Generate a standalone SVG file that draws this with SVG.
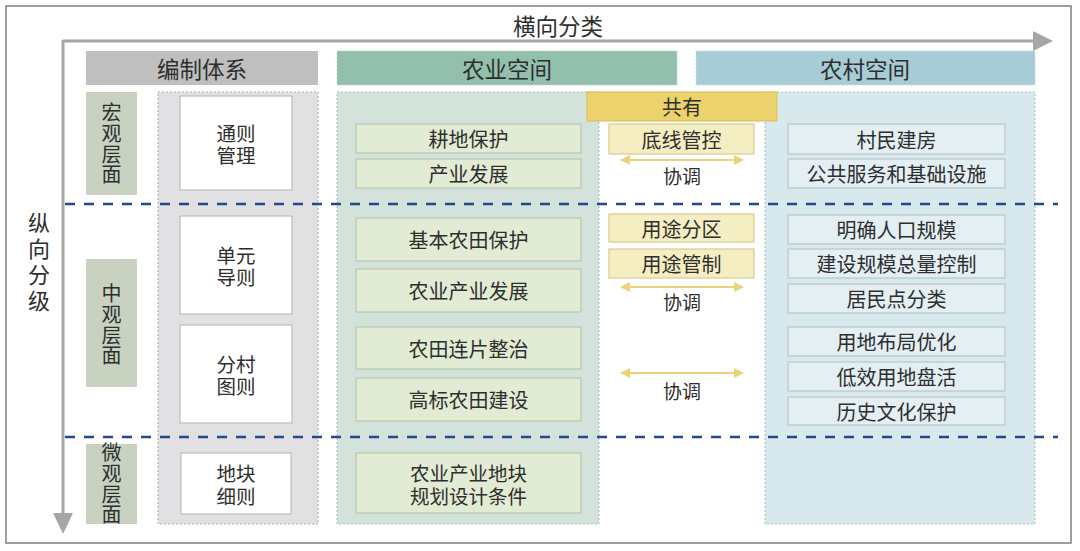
<svg xmlns="http://www.w3.org/2000/svg" width="1080" height="551" viewBox="0 0 1080 551">
<defs>
<style>
text{font-family:"Noto Sans CJK SC","Noto Sans",sans-serif;fill:#2e2e2e;text-anchor:middle;dominant-baseline:central}
.hd{font-size:22.5px}
.it{font-size:20px}
.tw{font-size:19.5px}
.cd{font-size:19px}
.lv{font-size:20px;writing-mode:vertical-rl;letter-spacing:0.7px}
.vt{font-size:22px;writing-mode:vertical-rl;letter-spacing:4px}
.agri{fill:#e2ebd3;stroke:#b9c5b3;stroke-width:1.2}
.rur{fill:#e4eff4;stroke:#b8c6cd;stroke-width:1.2}
.yel{fill:#f6eec3;stroke:#d8cb8f;stroke-width:1.2}
.wht{fill:#fff;stroke:#bdbdbd;stroke-width:1.2}
.lvl{fill:#c9d2c1}
.dash{stroke:#24498a;stroke-width:2.5;stroke-dasharray:10 9;fill:none}
.ya{stroke:#ead37a;stroke-width:2;fill:none;marker-start:url(#ys);marker-end:url(#ye)}
</style>
<marker id="ye" viewBox="0 0 10 10" refX="9" refY="5" markerWidth="5" markerHeight="5" orient="auto" markerUnits="strokeWidth"><path d="M0,0 L10,5 L0,10 z" fill="#ead37a"/></marker>
<marker id="ys" viewBox="0 0 10 10" refX="1" refY="5" markerWidth="5" markerHeight="5" orient="auto" markerUnits="strokeWidth"><path d="M10,0 L0,5 L10,10 z" fill="#ead37a"/></marker>
</defs>
<rect x="0" y="0" width="1080" height="551" fill="#fff"/>
<rect x="6" y="6" width="1065" height="537" fill="#fff" stroke="#7f7f7f" stroke-width="1.5"/>

<!-- axes -->
<g id="axes">
<line x1="63" y1="41" x2="1036" y2="41" stroke="#a6a6a6" stroke-width="3"/>
<polygon points="1033,31 1053,41 1033,51" fill="#a6a6a6"/>
<line x1="63" y1="40" x2="63" y2="516" stroke="#a6a6a6" stroke-width="3"/>
<polygon points="53,513 73,513 63,534" fill="#a6a6a6"/>
<text class="hd" x="558" y="25">横向分类</text>
<text class="vt" x="39" y="264">纵向分级</text>
</g>

<!-- column headers -->
<g id="h-system"><rect x="86" y="51" width="232" height="34" fill="#bfbfbf"/><text class="hd" x="202" y="68">编制体系</text></g>
<g id="h-agri"><rect x="337" y="51" width="340" height="34" fill="#93bfad" stroke="#b5d2c5" stroke-width="1" stroke-dasharray="2 2"/><text class="hd" x="507" y="68">农业空间</text></g>
<g id="h-rural"><rect x="696" y="51" width="339" height="34" fill="#a8ccd6" stroke="#c3dbe2" stroke-width="1" stroke-dasharray="2 2"/><text class="hd" x="865" y="68">农村空间</text></g>

<!-- column bodies -->
<g id="col-system"><rect x="158" y="92" width="160" height="432" fill="#e1e1e3" stroke="#ababab" stroke-width="1" stroke-dasharray="2 2"/></g>
<g id="col-agri"><rect x="337" y="92" width="262" height="432" fill="#d3e3dc" stroke="#a9bcb3" stroke-width="1" stroke-dasharray="2 2"/></g>
<g id="col-rural"><rect x="765" y="92" width="270" height="432" fill="#d8e9ee" stroke="#aac0c7" stroke-width="1" stroke-dasharray="2 2"/></g>

<!-- level labels -->
<g id="lv-macro"><rect class="lvl" x="86" y="92" width="51" height="103"/><text class="lv" x="111.5" y="144">宏观层面</text></g>
<g id="lv-meso"><rect class="lvl" x="86" y="259" width="51" height="128"/><text class="lv" x="111.5" y="325">中观层面</text></g>
<g id="lv-micro"><rect class="lvl" x="86" y="444" width="51" height="80"/><text class="lv" x="111.5" y="484">微观层面</text></g>

<!-- system boxes -->
<g id="sys-1"><rect class="wht" x="180" y="96" width="112" height="94"/><text class="tw" x="236" y="132">通则<tspan x="236" dy="22">管理</tspan></text></g>
<g id="sys-2"><rect class="wht" x="180" y="216" width="112" height="98"/><text class="tw" x="236" y="254">单元<tspan x="236" dy="22">导则</tspan></text></g>
<g id="sys-3"><rect class="wht" x="180" y="325" width="112" height="98"/><text class="tw" x="236" y="363">分村<tspan x="236" dy="22">图则</tspan></text></g>
<g id="sys-4"><rect class="wht" x="181" y="453" width="110" height="61"/><text class="tw" x="236" y="472">地块<tspan x="236" dy="23">细则</tspan></text></g>

<!-- agricultural items -->
<g id="a1"><rect class="agri" x="356" y="124" width="225" height="29"/><text class="it" x="468.5" y="138.5">耕地保护</text></g>
<g id="a2"><rect class="agri" x="356" y="159" width="225" height="29"/><text class="it" x="468.5" y="173.5">产业发展</text></g>
<g id="a3"><rect class="agri" x="356" y="218" width="225" height="43"/><text class="it" x="468.5" y="239.5">基本农田保护</text></g>
<g id="a4"><rect class="agri" x="356" y="269" width="225" height="43"/><text class="it" x="468.5" y="290.5">农业产业发展</text></g>
<g id="a5"><rect class="agri" x="356" y="327" width="225" height="42"/><text class="it" x="468.5" y="348">农田连片整治</text></g>
<g id="a6"><rect class="agri" x="356" y="378" width="225" height="43"/><text class="it" x="468.5" y="399.5">高标农田建设</text></g>
<g id="a7"><rect class="agri" x="356" y="453" width="225" height="60"/><text class="tw" x="468.5" y="472">农业产业地块<tspan x="468.5" dy="23">规划设计条件</tspan></text></g>

<!-- shared -->
<g id="shared"><rect x="587" y="92" width="190" height="29" fill="#ecd26d" stroke="#d9bd55" stroke-width="1"/><text class="it" x="682" y="106.5">共有</text></g>
<g id="s1"><rect class="yel" x="609" y="124" width="145" height="30"/><text class="it" x="681.5" y="139">底线管控</text></g>
<g id="s2"><rect class="yel" x="609" y="214" width="145" height="28"/><text class="it" x="681.5" y="228">用途分区</text></g>
<g id="s3"><rect class="yel" x="609" y="249" width="145" height="29"/><text class="it" x="681.5" y="263.5">用途管制</text></g>
<g id="c-label1"><text class="cd" x="682" y="175">协调</text></g>
<g id="c-label2"><text class="cd" x="682" y="301">协调</text></g>
<g id="c-label3"><text class="cd" x="682" y="390">协调</text></g>

<!-- rural items -->
<g id="r1"><rect class="rur" x="788" y="124" width="217" height="30"/><text class="it" x="896.5" y="139">村民建房</text></g>
<g id="r2"><rect class="rur" x="788" y="159" width="217" height="29"/><text class="it" x="896.5" y="173.5">公共服务和基础设施</text></g>
<g id="r3"><rect class="rur" x="788" y="215" width="217" height="29"/><text class="it" x="896.5" y="229.5">明确人口规模</text></g>
<g id="r4"><rect class="rur" x="788" y="249" width="217" height="29"/><text class="it" x="896.5" y="263.5">建设规模总量控制</text></g>
<g id="r5"><rect class="rur" x="788" y="284" width="217" height="29"/><text class="it" x="896.5" y="298.5">居民点分类</text></g>
<g id="r6"><rect class="rur" x="788" y="327" width="217" height="29"/><text class="it" x="896.5" y="341.5">用地布局优化</text></g>
<g id="r7"><rect class="rur" x="788" y="362" width="217" height="29"/><text class="it" x="896.5" y="376.5">低效用地盘活</text></g>
<g id="r8"><rect class="rur" x="788" y="397" width="217" height="28"/><text class="it" x="896.5" y="411">历史文化保护</text></g>

<!-- connectors -->
<g id="connectors">
<line class="ya" x1="621" y1="160" x2="743" y2="160"/>
<line class="ya" x1="621" y1="287" x2="743" y2="287"/>
<line class="ya" x1="621" y1="373" x2="743" y2="373"/>
<line class="dash" x1="65" y1="204" x2="1058" y2="204"/>
<line class="dash" x1="65" y1="437" x2="1058" y2="437"/>
</g>
</svg>
